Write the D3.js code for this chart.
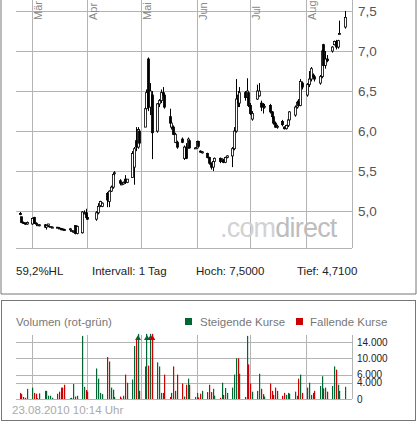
<!DOCTYPE html>
<html><head><meta charset="utf-8">
<script src="https://cdn.jsdelivr.net/npm/d3@7"></script>
<style>body{margin:0;background:#fff;font-family:"Liberation Sans",Arial,sans-serif}</style>
</head><body><div id="chart"></div>
<script>
// daily candles: date, open, high, low, close, volume (thousand)
const candles = [
["2010-02-22",4.97,4.99,4.95,4.96,1.5],["2010-02-23",4.93,4.93,4.85,4.86,1.2],["2010-02-24",4.86,4.87,4.84,4.85,0.5],
["2010-02-25",4.85,4.86,4.83,4.84,0.3],["2010-02-26",4.84,4.87,4.83,4.86,2.5],
["2010-03-01",4.84,4.92,4.83,4.91,2.8],["2010-03-02",4.92,4.93,4.84,4.85,1.5],["2010-03-03",4.85,4.86,4.83,4.84,1.3],
["2010-03-04",4.83,4.84,4.82,4.83,0.2],["2010-03-05",4.82,4.84,4.81,4.83,1.4],["2010-03-08",4.83,4.84,4.79,4.80,2.0],
["2010-03-09",4.80,4.83,4.77,4.82,2.0],["2010-03-10",4.82,4.84,4.80,4.84,0.8],["2010-03-11",4.80,4.81,4.80,4.81,0.8],
["2010-03-12",4.80,4.81,4.79,4.80,0.3],["2010-03-15",4.80,4.80,4.79,4.79,1.3],["2010-03-16",4.79,4.80,4.78,4.78,1.8],
["2010-03-17",4.78,4.79,4.77,4.77,2.8],["2010-03-18",4.78,4.78,4.76,4.77,2.8],["2010-03-19",4.77,4.78,4.76,4.76,3.5],
["2010-03-22",4.78,4.79,4.77,4.78,0.2],["2010-03-23",4.76,4.77,4.75,4.76,0.3],["2010-03-24",4.74,4.76,4.73,4.75,3.7],
["2010-03-25",4.82,4.82,4.71,4.72,0.6],["2010-03-26",4.72,4.82,4.71,4.81,0.8],["2010-03-29",4.73,5.00,4.72,4.99,15.5],
["2010-03-30",4.97,5.01,4.96,4.98,3.0],["2010-03-31",4.98,5.03,4.90,4.92,2.2],["2010-04-01",4.92,4.95,4.89,4.90,1.8],
["2010-04-06",4.90,5.00,4.88,4.98,7.5],["2010-04-07",4.98,5.10,4.96,5.06,5.0],["2010-04-08",5.07,5.13,5.05,5.12,1.5],
["2010-04-09",5.06,5.11,5.05,5.10,1.2],["2010-04-12",5.22,5.24,5.05,5.14,10.3],["2010-04-13",5.12,5.26,5.05,5.25,9.2],
["2010-04-14",5.25,5.32,5.24,5.30,2.8],["2010-04-15",5.30,5.48,5.28,5.46,2.3],["2010-04-16",5.47,5.50,5.44,5.48,0.5],
["2010-04-19",5.38,5.40,5.34,5.35,0.6],["2010-04-20",5.34,5.35,5.33,5.34,0.2],["2010-04-21",5.34,5.37,5.33,5.36,0.8],
["2010-04-22",5.40,5.45,5.34,5.36,6.0],["2010-04-23",5.36,5.40,5.35,5.40,4.0],["2010-04-26",5.42,5.75,5.42,5.72,4.8],
["2010-04-27",5.55,5.80,5.33,5.78,13.0],["2010-04-28",5.88,6.05,5.75,5.80,14.5],["2010-04-29",5.80,6.05,5.78,6.02,16.5],
["2010-04-30",6.00,6.02,5.82,5.85,2.0],["2010-05-03",6.05,6.30,6.05,6.28,8.0],["2010-05-04",6.28,6.52,6.25,6.48,16.5],
["2010-05-05",6.90,6.92,6.25,6.30,8.2],["2010-05-06",6.30,6.60,6.20,6.50,16.5],["2010-05-07",6.45,6.50,5.65,5.98,16.5],
["2010-05-10",6.00,6.35,5.98,6.34,9.0],["2010-05-11",6.34,6.40,6.30,6.38,8.0],["2010-05-12",6.38,6.52,6.35,6.48,1.5],
["2010-05-13",6.48,6.55,6.42,6.45,1.5],["2010-05-14",6.45,6.47,6.28,6.30,6.0],["2010-05-17",6.18,6.28,6.05,6.10,0.5],
["2010-05-18",6.05,6.12,6.02,6.10,1.5],["2010-05-19",6.05,6.07,5.95,5.96,8.0],["2010-05-20",5.86,5.98,5.85,5.96,2.0],
["2010-05-21",5.86,5.88,5.78,5.80,6.0],["2010-05-24",5.90,5.92,5.85,5.86,3.8],["2010-05-25",5.66,5.82,5.64,5.80,0.6],
["2010-05-26",5.80,5.85,5.65,5.66,3.5],["2010-05-27",5.80,5.92,5.78,5.90,5.0],["2010-05-28",5.88,5.90,5.78,5.79,3.5],
["2010-05-31",5.79,5.80,5.78,5.79,0.5],["2010-06-01",5.79,5.88,5.78,5.87,1.5],["2010-06-02",5.87,5.88,5.80,5.81,0.4],
["2010-06-03",5.75,5.76,5.73,5.74,1.3],["2010-06-04",5.73,5.75,5.72,5.74,2.0],["2010-06-07",5.72,5.73,5.66,5.67,1.7],
["2010-06-08",5.67,5.68,5.58,5.60,3.5],["2010-06-09",5.60,5.61,5.52,5.55,1.7],["2010-06-10",5.55,5.64,5.50,5.62,2.5],
["2010-06-11",5.62,5.67,5.60,5.66,0.8],["2010-06-14",5.66,5.67,5.60,5.62,0.3],["2010-06-15",5.62,5.66,5.61,5.65,4.0],
["2010-06-16",5.64,5.65,5.60,5.61,1.0],["2010-06-17",5.61,5.68,5.60,5.67,2.7],["2010-06-18",5.67,5.70,5.66,5.69,1.5],
["2010-06-21",5.69,5.80,5.55,5.78,2.8],["2010-06-22",5.78,6.05,5.76,6.00,6.0],["2010-06-23",6.00,6.65,5.98,6.40,10.0],
["2010-06-24",6.45,6.50,6.30,6.35,10.0],["2010-06-25",6.35,6.55,6.30,6.48,6.2],["2010-06-28",6.48,6.50,6.38,6.42,0.5],
["2010-06-29",6.42,6.66,6.40,6.50,15.5],["2010-06-30",6.48,6.50,6.30,6.32,8.5],["2010-07-01",6.32,6.35,6.20,6.22,3.8],
["2010-07-02",6.15,6.25,6.13,6.22,1.8],["2010-07-05",6.40,6.58,6.39,6.50,2.0],["2010-07-06",6.44,6.60,6.43,6.50,6.2],
["2010-07-07",6.35,6.38,6.25,6.30,2.5],["2010-07-08",6.32,6.35,6.22,6.30,1.2],["2010-07-09",6.30,6.34,6.28,6.31,0.6],
["2010-07-12",6.32,6.34,6.22,6.24,3.8],["2010-07-13",6.24,6.25,6.15,6.18,2.0],["2010-07-14",6.18,6.19,6.08,6.10,1.0],
["2010-07-15",6.10,6.12,6.04,6.05,2.8],["2010-07-16",6.05,6.08,6.03,6.06,2.0],["2010-07-19",6.12,6.14,6.06,6.08,0.8],
["2010-07-20",6.05,6.06,6.02,6.03,1.5],["2010-07-21",6.03,6.08,6.02,6.07,1.0],["2010-07-22",6.07,6.15,6.05,6.14,1.5],
["2010-07-23",6.14,6.25,6.12,6.24,1.3],["2010-07-26",6.20,6.32,6.18,6.30,1.8],["2010-07-27",6.30,6.38,6.28,6.36,0.8],
["2010-07-28",6.36,6.40,6.30,6.32,5.0],["2010-07-29",6.32,6.65,6.31,6.62,6.0],["2010-07-30",6.60,6.62,6.52,6.55,1.5],
["2010-08-02",6.45,6.60,6.43,6.58,2.8],["2010-08-03",6.58,6.75,6.55,6.65,4.0],["2010-08-04",6.65,6.80,6.62,6.78,1.0],
["2010-08-05",6.70,6.72,6.66,6.68,1.5],["2010-08-06",6.68,6.70,6.62,6.65,2.0],["2010-08-09",6.60,6.70,6.58,6.68,3.2],
["2010-08-10",6.68,7.02,6.66,7.00,5.6],["2010-08-11",7.08,7.09,6.80,6.82,2.6],["2010-08-12",6.82,7.00,6.78,6.90,2.8],
["2010-08-13",6.90,6.95,6.86,6.88,1.8],["2010-08-16",7.00,7.06,6.98,7.05,3.2],["2010-08-17",7.08,7.13,7.07,7.12,8.0],
["2010-08-18",7.12,7.14,7.02,7.05,7.2],["2010-08-19",7.05,7.14,7.03,7.13,3.5],["2010-08-20",7.21,7.38,7.21,7.22,2.0],
["2010-08-23",7.30,7.50,7.28,7.42,3.0]
];
const priceTicks = [5.0, 5.5, 6.0, 6.5, 7.0, 7.5];
const volTicks = [0, 4000, 6000, 10000, 14000];
const monthTicks = ["2010-03-01","2010-04-01","2010-05-01","2010-06-01","2010-07-01","2010-08-01"];
const monthNames = ["Mär","Apr","Mai","Jun","Jul","Aug"];
const info = ["59,2%HL", "Intervall: 1 Tag", "Hoch: 7,5000", "Tief: 4,7100"];

const parse = d3.timeParse("%Y-%m-%d");
const data = candles.map(r => ({date: parse(r[0]), o: r[1], h: r[2], l: r[3], c: r[4], v: r[5] * 1000}));
const fmt = d3.format(",.1f"), fmtV = d3.format(",d");
const de = v => fmt(v).replace(".", ",");
const deV = v => fmtV(v).replace(/,/g, ".");

const svg = d3.select("#chart").append("svg").attr("width", 417).attr("height", 425);
const grid = "#b4b4b4", txt = "#555";

const x = d3.scaleTime().domain([parse("2010-02-20"), parse("2010-08-27")]).range([16, 352]);
const y = d3.scaleLinear().domain([4.54, 7.5]).range([248, 11]);

// frames
svg.append("path").attr("d", "M1,0V294H416V0").attr("fill", "none").attr("stroke", "#777");
svg.append("rect").attr("x", 1.5).attr("y", 300.5).attr("width", 414).attr("height", 120).attr("fill", "none").attr("stroke", "#777");

// price grid
svg.append("g").selectAll("line").data(priceTicks).join("line")
  .attr("x1", 16).attr("x2", 352).attr("y1", d => Math.round(y(d)) + .5).attr("y2", d => Math.round(y(d)) + .5).attr("stroke", grid);
svg.append("g").selectAll("line").data(monthTicks).join("line")
  .attr("x1", d => Math.round(x(parse(d))) + .5).attr("x2", d => Math.round(x(parse(d))) + .5)
  .attr("y1", 0).attr("y2", 248).attr("stroke", grid);
svg.append("line").attr("x1", 16).attr("x2", 352).attr("y1", 248.5).attr("y2", 248.5).attr("stroke", grid);
svg.append("line").attr("x1", 352.5).attr("x2", 352.5).attr("y1", 0).attr("y2", 248).attr("stroke", grid);
svg.append("g").selectAll("text").data(priceTicks).join("text")
  .attr("x", 358).attr("y", d => y(d) + 5).attr("font-size", 13.5).attr("fill", txt).text(de);
svg.append("g").selectAll("text").data(monthTicks).join("text")
  .attr("transform", d => `translate(${x(parse(d)) + 10},20) rotate(-90)`)
  .attr("font-size", 11).attr("fill", "#888").text((d, i) => monthNames[i]);

// watermark
const wm = svg.append("text").attr("x", 220).attr("y", 237).attr("font-size", 27).attr("letter-spacing", -0.8);
wm.append("tspan").attr("fill", "#d2d2d2").text(".com");
wm.append("tspan").attr("fill", "#bdbdbd").text("direct");

// candles
const cg = svg.append("g");
cg.selectAll("line").data(data).join("line")
  .attr("x1", d => Math.round(x(d.date)) + .5).attr("x2", d => Math.round(x(d.date)) + .5)
  .attr("y1", d => y(d.h)).attr("y2", d => y(d.l)).attr("stroke", "#000");
cg.selectAll("rect").data(data).join("rect")
  .attr("x", d => Math.round(x(d.date)) - 0.5).attr("width", 2)
  .attr("y", d => y(Math.max(d.o, d.c))).attr("height", d => Math.max(1, Math.abs(y(d.o) - y(d.c))))
  .attr("fill", d => d.c >= d.o ? "#fff" : "#000").attr("stroke", "#000").attr("stroke-width", 0.8);

// info line
svg.append("g").selectAll("text").data(info).join("text")
  .attr("x", (d, i) => [16, 92, 196, 297][i]).attr("y", 275).attr("font-size", 11.5).attr("fill", "#222").text(d => d);

// volume panel
const yv = d3.scaleLinear().domain([0, 14000]).range([399, 342]);
svg.append("g").selectAll("line").data(volTicks).join("line")
  .attr("x1", 16).attr("x2", 352).attr("y1", d => Math.round(yv(d)) + .5).attr("y2", d => Math.round(yv(d)) + .5).attr("stroke", grid);
svg.append("g").selectAll("line").data(monthTicks).join("line")
  .attr("x1", d => Math.round(x(parse(d))) + .5).attr("x2", d => Math.round(x(parse(d))) + .5)
  .attr("y1", 335).attr("y2", 399).attr("stroke", grid);
svg.append("line").attr("x1", 352.5).attr("x2", 352.5).attr("y1", 335).attr("y2", 399).attr("stroke", grid);
svg.append("g").selectAll("text").data(volTicks).join("text")
  .attr("x", 357).attr("y", d => yv(d) + 3.5).attr("font-size", 10).attr("fill", "#222").text(deV);
const col = d => d.c >= d.o ? "#006633" : "#cc0000";
const vmax = 16000;
svg.append("g").selectAll("rect").data(data).join("rect")
  .attr("x", d => Math.round(x(d.date))).attr("width", 1.2)
  .attr("y", d => yv(Math.min(d.v, vmax))).attr("height", d => yv(0) - yv(Math.min(d.v, vmax)))
  .attr("fill", col);
svg.append("g").selectAll("path").data(data.filter(d => d.v > vmax)).join("path")
  .attr("d", d => { const cx = x(d.date) + .5; return `M${cx - 3},340L${cx},335L${cx + 3},340Z`; })
  .attr("fill", col);
svg.append("text").attr("x", 16).attr("y", 326).attr("font-size", 11.5).attr("fill", "#777").text("Volumen (rot-grün)");
svg.append("rect").attr("x", 185).attr("y", 318).attr("width", 7).attr("height", 7).attr("fill", "#006633");
svg.append("text").attr("x", 200).attr("y", 326).attr("font-size", 11.5).attr("fill", "#777").text("Steigende Kurse");
svg.append("rect").attr("x", 296).attr("y", 318).attr("width", 7).attr("height", 7).attr("fill", "#cc0000");
svg.append("text").attr("x", 310).attr("y", 326).attr("font-size", 11.5).attr("fill", "#777").text("Fallende Kurse");
svg.append("text").attr("x", 12).attr("y", 414).attr("font-size", 11.5).attr("fill", "#aaa").text("23.08.2010 10:14 Uhr");
</script></body></html>
